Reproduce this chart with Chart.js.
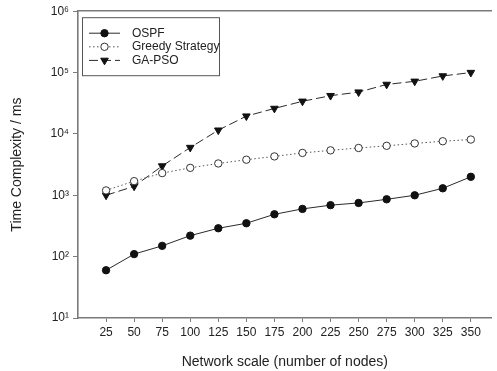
<!DOCTYPE html>
<html>
<head>
<meta charset="utf-8">
<script src="https://cdn.jsdelivr.net/npm/chart.js@4/dist/chart.umd.min.js"></script>
<style>
html,body{margin:0;padding:0;background:#fff;}
canvas{display:block;}
</style>
</head>
<body>
<canvas id="c" width="497" height="371"></canvas>
<script>
const nodes = [25, 50, 75, 100, 125, 150, 175, 200, 225, 250, 275, 300, 325, 350];
const ospf = [60, 110, 150, 220, 290, 350, 490, 600, 690, 750, 860, 1000, 1300, 2000];
const greedy = [1200, 1700, 2300, 2800, 3300, 3800, 4300, 4900, 5400, 5900, 6400, 7000, 7600, 8100];
const gapso = [1000, 1400, 3000, 6000, 11500, 19500, 26000, 34000, 42000, 48000, 64000, 72000, 88000, 100000];
const yTicks = [10, 100, 1000, 10000, 100000, 1000000];
const seriesNames = ['OSPF', 'Greedy Strategy', 'GA-PSO'];
const xTitle = 'Network scale (number of nodes)';
const yTitle = 'Time Complexity / ms';

const sup = {'0':'⁰','1':'¹','2':'²','3':'³','4':'⁴','5':'⁵','6':'⁶','7':'⁷','8':'⁸','9':'⁹'};
const FONT = "'Liberation Sans', Arial, sans-serif";
const INK = '#222';
const AXIS = '#7a7a7a';

function pts(vals){ return vals.map((v,i)=>({x:nodes[i], y:v})); }

const legendPlugin = {
  id: 'boxLegend',
  afterDraw(chart){
    const ctx = chart.ctx, a = chart.chartArea;
    const bx = a.left + 4, by = a.top + 6, bw = 137, bh = 58;
    ctx.save();
    ctx.fillStyle = '#fff';
    ctx.fillRect(bx, by, bw, bh);
    ctx.strokeStyle = '#555';
    ctx.lineWidth = 1;
    ctx.strokeRect(bx + 0.5, by + 0.5, bw, bh);
    chart.data.datasets.forEach((ds, i) => {
      const y = by + 16 + i * 13.6;
      ctx.save();
      ctx.strokeStyle = ds.borderColor;
      ctx.lineWidth = ds.borderWidth;
      ctx.setLineDash(ds.borderDash || []);
      ctx.beginPath();
      ctx.moveTo(bx + 7, y);
      ctx.lineTo(bx + 38, y);
      ctx.stroke();
      ctx.restore();
      ctx.save();
      ctx.fillStyle = ds.pointBackgroundColor;
      ctx.strokeStyle = ds.pointBorderColor;
      ctx.lineWidth = ds.pointBorderWidth || 1;
      Chart.helpers.drawPoint(ctx, {
        pointStyle: ds.pointStyle,
        rotation: ds.pointRotation || 0,
        radius: ds.pointRadius,
        borderWidth: ds.pointBorderWidth || 1
      }, bx + 22.5, y);
      ctx.restore();
      ctx.fillStyle = INK;
      ctx.font = '12px ' + FONT;
      ctx.textBaseline = 'middle';
      ctx.textAlign = 'left';
      ctx.fillText(ds.label, bx + 50, y);
    });
    ctx.restore();
  }
};

new Chart(document.getElementById('c'), {
  type: 'line',
  data: {
    datasets: [
      {
        label: seriesNames[0], data: pts(ospf),
        borderColor: '#2a2a2a', borderWidth: 1,
        pointStyle: 'circle', pointRadius: 3.7,
        pointBackgroundColor: '#111', pointBorderColor: '#111', pointBorderWidth: 1
      },
      {
        label: seriesNames[1], data: pts(greedy),
        borderColor: '#555', borderWidth: 1, borderDash: [1.5, 2.5],
        pointStyle: 'circle', pointRadius: 3.7,
        pointBackgroundColor: '#fff', pointBorderColor: '#333', pointBorderWidth: 1
      },
      {
        label: seriesNames[2], data: pts(gapso),
        borderColor: '#2a2a2a', borderWidth: 1, borderDash: [9, 4],
        pointStyle: 'triangle', pointRotation: 180, pointRadius: 4.4,
        pointBackgroundColor: '#111', pointBorderColor: '#111', pointBorderWidth: 1
      }
    ]
  },
  options: {
    responsive: false,
    animation: false,
    events: [],
    layout: { padding: { top: 11, left: 0, right: 0, bottom: 0 } },
    plugins: { legend: { display: false }, tooltip: { enabled: false } },
    scales: {
      x: {
        type: 'linear', position: 'bottom', min: 0, max: 368.5,
        afterBuildTicks(s){ s.ticks = nodes.map(v => ({value: v})); },
        afterFit(s){ s.height = 53; },
        ticks: {
          autoSkip: false, maxRotation: 0, padding: 3,
          color: INK, font: { family: FONT, size: 12 },
          callback: v => String(v)
        },
        grid: { display: true, drawOnChartArea: false, drawTicks: true, tickLength: 4, color: AXIS, lineWidth: 1 },
        border: { display: true, color: AXIS, width: 1.6 },
        title: { display: true, text: xTitle, color: INK, font: { family: FONT, size: 14 }, padding: { top: 10, bottom: 0 } }
      },
      xTop: {
        type: 'linear', position: 'top', min: 0, max: 368.5,
        afterFit(s){ s.height = 0; },
        ticks: { display: false },
        grid: { display: false, drawTicks: false },
        border: { display: true, color: AXIS, width: 1.6 }
      },
      y: {
        type: 'logarithmic', min: 10, max: 1000000,
        afterBuildTicks(s){ s.ticks = yTicks.map(v => ({value: v, major: true})); },
        afterFit(s){ s.width = 78; },
        ticks: {
          autoSkip: false, padding: 4,
          color: INK, font: { family: FONT, size: 12 },
          callback: v => '10' + String(Math.round(Math.log10(v))).split('').map(c => sup[c]).join('')
        },
        grid: { display: true, drawOnChartArea: false, drawTicks: true, tickLength: 5, color: AXIS, lineWidth: 1 },
        border: { display: true, color: AXIS, width: 1.6 },
        title: { display: true, text: yTitle, color: INK, font: { family: FONT, size: 14 }, padding: { top: 9, bottom: 4 } }
      }
    }
  },
  plugins: [legendPlugin]
});
</script>
</body>
</html>
